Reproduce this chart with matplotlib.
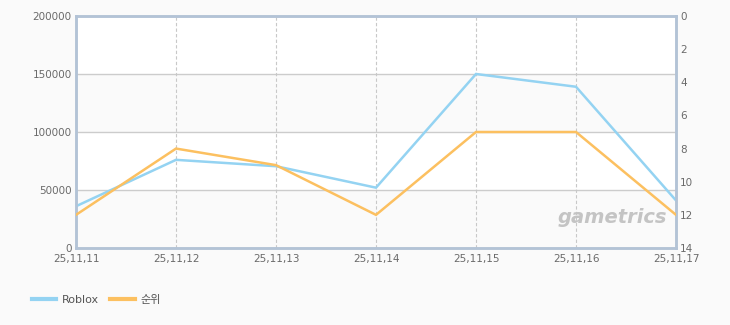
import matplotlib
matplotlib.use("Agg")
import matplotlib.pyplot as plt
from matplotlib.lines import Line2D

plt.rcParams['font.family'] = ['DejaVu Sans', 'Noto Sans CJK KR']

dates = ["25,11,11", "25,11,12", "25,11,13", "25,11,14", "25,11,15", "25,11,16", "25,11,17"]
roblox = [36000, 76000, 70500, 52000, 150000, 139000, 41000]
rank = [12, 8, 9, 12, 7, 7, 12]
left_ticks = [0, 50000, 100000, 150000, 200000]
right_ticks = [0, 2, 4, 6, 8, 10, 12, 14]

blue = "#94d3f2"
orange = "#fcc060"
tick_color = "#6a6a6a"
frame_color = "#b3c3d6"

W, H = 730, 325
fig = plt.figure(figsize=(W / 100, H / 100), dpi=100)
fig.patch.set_facecolor("#fafafa")
ax = fig.add_axes([76 / W, 1 - 248 / H, 600 / W, 232 / H])
ax.set_facecolor("white")
x = list(range(len(dates)))

# alternating bands
for lo, hi in [(0, 50000), (100000, 150000)]:
    ax.axhspan(lo, hi, color="#fafafa", zorder=0, lw=0)
for v in left_ticks[1:-1]:
    ax.axhline(v, color="#cccccc", lw=1, zorder=1)
for xi in x[1:-1]:
    ax.axvline(xi, color="#c8c8c8", lw=0.8, ls=(0, (3, 2)), zorder=1)

ax.plot(x, roblox, color=blue, lw=1.8, zorder=3, solid_joinstyle="miter")
ax.set_xlim(0, len(dates) - 1)
ax.set_ylim(0, 200000)
ax.set_yticks(left_ticks)
ax.set_yticklabels([str(v) for v in left_ticks])
ax.set_xticks(x)
ax.set_xticklabels(dates)
ax.tick_params(axis="both", length=0, colors=tick_color, labelsize=7.5, pad=3)
ax.tick_params(axis="x", pad=4)
for s in ax.spines.values():
    s.set_color(frame_color)
    s.set_linewidth(1.8)

ax2 = ax.twinx()
ax2.plot(x, rank, color=orange, lw=1.8, zorder=3, solid_joinstyle="miter")
ax2.set_ylim(14, 0)
ax2.set_yticks(right_ticks)
ax2.set_yticklabels([str(v) for v in right_ticks])
ax2.tick_params(axis="y", length=0, colors=tick_color, labelsize=7.5, pad=3)
for s in ax2.spines.values():
    s.set_color(frame_color)
    s.set_linewidth(1.8)

# watermark
ax.text(0.985, 0.09, "gametrics", transform=ax.transAxes, ha="right", va="bottom",
        fontsize=14, fontweight="bold", fontstyle="italic", color="#c4c4c4", zorder=2)

# legend
handles = [Line2D([], [], color=blue, lw=3), Line2D([], [], color=orange, lw=3)]
fig.legend(handles, ["Roblox", "순위"], loc="center left", bbox_to_anchor=(22 / W, 1 - 300 / H),
           ncol=2, frameon=False, fontsize=8, labelcolor="#555555", handlelength=2.2,
           handletextpad=0.5, columnspacing=1.0)

fig.savefig("out.png", dpi=100, facecolor=fig.get_facecolor())
